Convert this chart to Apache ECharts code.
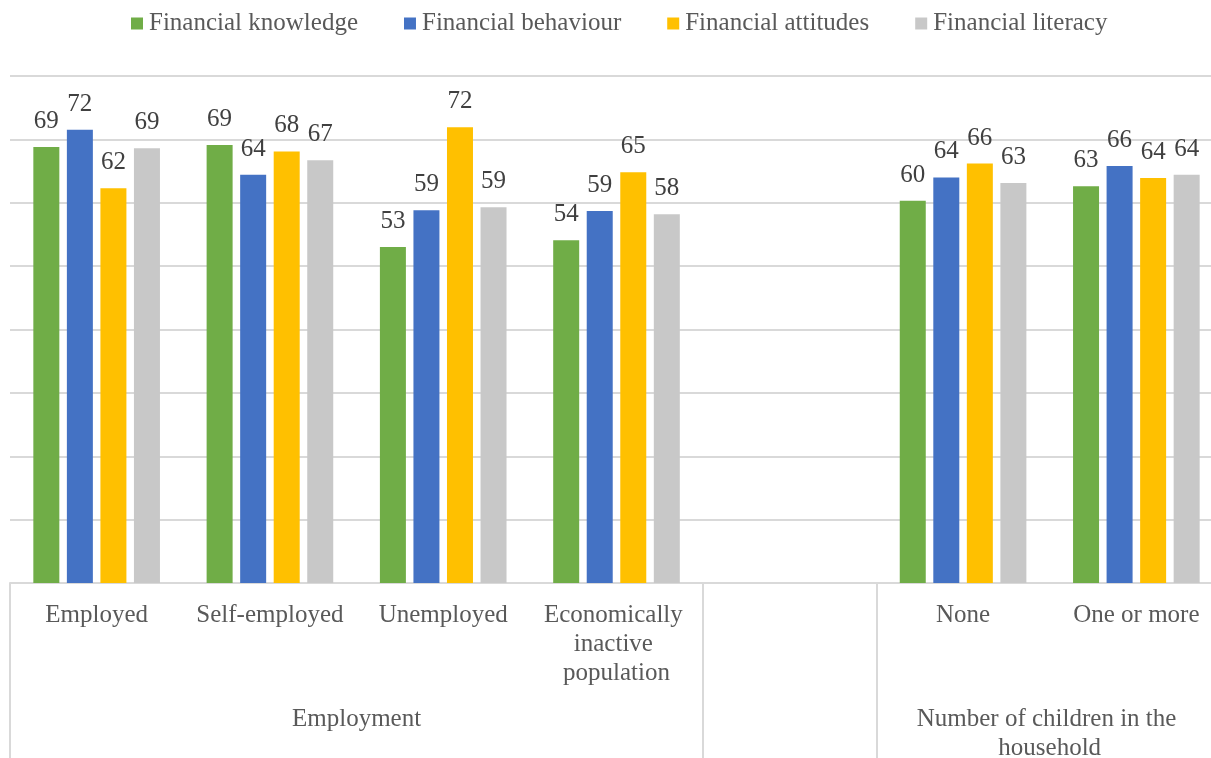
<!DOCTYPE html>
<html>
<head>
<meta charset="utf-8">
<script src="https://cdn.jsdelivr.net/npm/echarts@6/dist/echarts.min.js"></script>
<style>
  html, body { margin: 0; padding: 0; background: #fff; }
  #chart { width: 1211px; height: 758px; }
</style>
</head>
<body>
<div id="chart"></div>
<script>
const categories = ['Employed', 'Self-employed', 'Unemployed', 'Economically inactive population', '', 'None', 'One or more'];
const groupNames = ['Employment', 'Number of children in the household'];
const seriesNames = ['Financial knowledge', 'Financial behaviour', 'Financial attitudes', 'Financial literacy'];
const knowledge = [68.8, 69.1, 53.0, 54.1, null, 60.3, 62.6];
const behaviour = [71.5, 64.4, 58.8, 58.7, null, 64.0, 65.8];
const attitudes = [62.3, 68.1, 71.9, 64.8, null, 66.2, 63.9];
const literacy = [68.6, 66.7, 59.3, 58.2, null, 63.1, 64.4];
const colors = ['#70ad47', '#4472c4', '#ffc000', '#c8c8c8'];

const font = 'Liberation Serif, Times New Roman, serif';
const chart = echarts.init(document.getElementById('chart'));

const values = [knowledge, behaviour, attitudes, literacy];

chart.setOption({
  animation: false,
  color: colors,
  textStyle: { fontFamily: font },
  legend: {
    top: 6,
    left: 126,
    itemWidth: 12,
    itemHeight: 12,
    itemGap: 46,
    icon: 'rect',
    textStyle: { fontFamily: font, fontSize: 25, color: '#595959', padding: [0, 0, 0, 1] },
    data: seriesNames
  },
  grid: { left: 10, right: -12, top: 76, bottom: 175, containLabel: false, outerBoundsMode: 'none' },
  xAxis: [
    {
      type: 'category',
      data: categories,
      axisLine: { lineStyle: { color: '#d9d9d9', width: 2 } },
      axisTick: {
        show: true,
        length: 175,
        interval: (i) => i === 0 || i === 4 || i === 5,
        lineStyle: { color: '#d9d9d9', width: 2 }
      },
      axisLabel: {
        interval: 0,
        margin: 18,
        fontFamily: font,
        fontSize: 25,
        lineHeight: 29,
        color: '#595959',
        width: 160,
        overflow: 'break'
      }
    },
    {
      type: 'value',
      min: 0,
      max: 7,
      interval: 1,
      position: 'bottom',
      axisLine: { show: false },
      axisTick: { show: false },
      splitLine: { show: false },
      axisLabel: {
        margin: 122,
        fontFamily: font,
        fontSize: 25,
        lineHeight: 29,
        color: '#595959',
        width: 300,
        overflow: 'break',
        verticalAlign: 'top',
        formatter: (v) => (v === 2 ? groupNames[0] : v === 6 ? groupNames[1] : '')
      }
    }
  ],
  yAxis: {
    type: 'value',
    min: 0,
    max: 80,
    interval: 10,
    axisLabel: { show: false },
    axisLine: { show: false },
    axisTick: { show: false },
    splitLine: { lineStyle: { color: '#d9d9d9', width: 2 } }
  },
  series: seriesNames.map((name, k) => ({
    name,
    type: 'bar',
    xAxisIndex: 0,
    data: values[k],
    barWidth: 26,
    barGap: '29%',
    itemStyle: { color: colors[k] },
    label: {
      show: true,
      position: 'top',
      distance: 13,
      fontFamily: font,
      fontSize: 25,
      color: '#404040',
      formatter: (p) => Math.round(p.value)
    }
  }))
});
</script>
</body>
</html>
